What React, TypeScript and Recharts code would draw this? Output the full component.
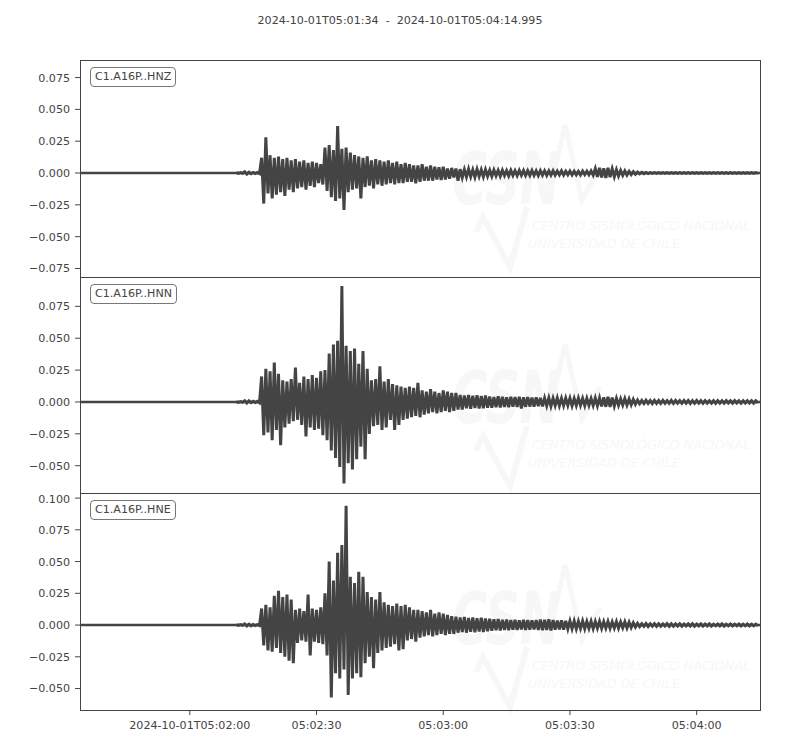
import { LineChart, Line, XAxis, YAxis, ReferenceLine } from 'recharts';

// amplitudes are read in thousandths, one upper and one lower peak per second
const MILLI = 0.001;
const startSec = 37; // seconds after 05:01:34
const endSec = 160.995;

const hnzHi = [
  0.3, 0.3, 1.0, 0.6, 0.4, 0.4, 12, 28, 14, 12,
  13, 11, 12, 10, 11, 9, 10, 8, 9, 8,
  7, 20, 22, 18, 37, 19, 20, 16, 14, 13,
  12, 13, 10, 11, 10, 9, 10, 8, 9, 7,
  8, 7, 6, 6, 7, 5, 6, 5, 4.5, 5,
  3.5, 4, 3.5, 3, 2.7, 3.1, 2.5, 2.9, 2.5, 2.7,
  2.2, 2.4, 2.0, 2.2, 1.9, 2.1, 1.8, 2.0, 1.9, 1.8,
  2.0, 1.7, 1.9, 1.8, 1.6, 1.8, 1.5, 1.7, 1.4, 1.5,
  1.4, 1.3, 1.5, 1.4, 1.6, 3.4, 4.0, 3.6, 4.1, 3.2,
  2.6, 2.0, 1.6, 1.3, 1.0, 0.7, 0.5, 0.4, 0.3, 0.3,
  0.3, 0.3, 0.3, 0.3, 0.3, 0.3, 0.3, 0.3, 0.3, 0.3,
  0.3, 0.3, 0.3, 0.3, 0.3, 0.3, 0.3, 0.3, 0.3, 0.3,
  0.3, 0.3, 0.3, 0.3,
];
const hnzLo = [
  -0.3, -0.3, -0.9, -0.6, -0.4, -0.5, -24, -16, -20, -17,
  -15, -18, -13, -15, -12, -11, -13, -10, -11, -8,
  -9, -14, -19, -22, -20, -29, -15, -13, -12, -20,
  -11, -10, -12, -9, -10, -9, -8, -9, -8, -8,
  -7, -7, -8, -7, -6, -6, -6, -5, -5.5, -5,
  -4.5, -3.5, -6, -3.5, -3.1, -2.9, -3.3, -2.7, -3, -2.5,
  -2.6, -2.2, -2.4, -2.0, -2.2, -1.9, -2.1, -1.8, -2.0, -1.9,
  -1.8, -2.0, -1.7, -1.9, -1.6, -1.7, -1.5, -1.6, -1.4, -1.5,
  -1.4, -1.5, -1.3, -1.4, -1.7, -3.0, -3.4, -3.8, -3.2, -2.9,
  -2.4, -1.9, -1.6, -1.3, -1.0, -0.7, -0.5, -0.4, -0.3, -0.3,
  -0.3, -0.3, -0.3, -0.3, -0.3, -0.3, -0.3, -0.3, -0.3, -0.3,
  -0.3, -0.3, -0.3, -0.3, -0.3, -0.3, -0.3, -0.3, -0.3, -0.3,
  -0.3, -0.3, -0.3, -0.3,
];

const hnnHi = [
  0.3, 0.3, 1.0, 0.9, 0.5, 0.5, 20, 26, 24, 31,
  22, 17, 16, 18, 27, 15, 20, 18, 21, 19,
  24, 25, 38, 45, 48, 91, 44, 40, 42, 30,
  40, 26, 17, 18, 28, 16, 18, 14, 13, 12,
  11, 12, 11, 15, 9, 8, 10, 8, 7, 9,
  8, 7, 7, 5.5, 5, 5.4, 4.8, 5.2, 4.6, 5,
  4.3, 3.9, 4.5, 4.0, 3.7, 4.1, 3.8, 4.0, 3.6, 3.9,
  3.4, 3.7, 3.2, 3.0, 3.2, 2.9, 3.1, 2.8, 3.0, 2.9,
  2.7, 3.0, 2.8, 2.9, 2.6, 3.0, 3.2, 3.6, 4.0, 3.4,
  2.8, 2.4, 2.6, 2.3, 2.0, 1.4, 1.2, 1.3, 1.1, 1.2,
  1.1, 1.2, 1.0, 1.2, 1.1, 1.0, 1.2, 1.1, 1.0, 1.1,
  1.0, 1.1, 0.9, 1.0, 1.1, 0.9, 1.0, 0.9, 1.0, 0.9,
  0.9, 1.0, 0.9, 0.9,
];
const hnnLo = [
  -0.3, -0.3, -0.8, -0.6, -0.5, -0.6, -26, -24, -30, -22,
  -34, -20, -17, -15, -14, -18, -27, -20, -22, -21,
  -26, -30, -38, -44, -51, -64, -48, -53, -45, -35,
  -45, -25, -19, -18, -22, -20, -14, -22, -18, -14,
  -13, -12, -11, -12, -10, -9, -8, -9, -8, -7,
  -8, -7, -6, -6, -5, -5.4, -4.8, -5.2, -5, -4.6,
  -4.5, -4.1, -4.3, -3.9, -4.1, -3.7, -4.0, -5.2, -3.8, -3.6,
  -3.6, -3.2, -3.4, -3.0, -3.2, -2.8, -3.0, -2.9, -2.7, -3.0,
  -2.8, -2.6, -2.9, -2.7, -2.8, -3.0, -3.4, -3.8, -3.9, -3.2,
  -2.6, -2.4, -2.5, -2.2, -1.8, -1.4, -1.2, -1.1, -1.3, -1.1,
  -1.2, -1.0, -1.1, -1.2, -1.0, -1.1, -1.0, -1.2, -1.1, -1.0,
  -1.1, -0.9, -1.0, -1.1, -0.9, -1.0, -0.9, -1.0, -0.9, -1.0,
  -0.9, -0.9, -1.0, -0.9,
];

const hneHi = [
  0.3, 0.3, 0.8, 0.7, 0.4, 0.4, 13, 16, 14, 23,
  27, 22, 24, 20, 12, 13, 11, 24, 13, 12,
  14, 25, 50, 35, 57, 63, 94, 38, 33, 42,
  38, 26, 22, 20, 26, 18, 16, 15, 17, 15,
  16, 14, 12, 12, 11, 10, 12, 9, 10, 9,
  8, 7, 6.5, 6, 6.4, 5.6, 6, 5.4, 5.8, 5.2,
  5.0, 4.5, 4.7, 4.1, 4.3, 3.9, 4.2, 3.8, 4.1, 3.9,
  3.7, 4.0, 4.3, 4.1, 4.5, 3.9, 3.6, 3.8, 3.3, 3.1,
  3.2, 2.9, 3.1, 2.8, 3.0, 2.7, 2.9, 2.6, 2.8, 2.5,
  2.7, 2.4, 2.5, 2.2, 1.8, 1.3, 1.1, 1.2, 1.0, 1.1,
  1.0, 0.9, 1.1, 1.0, 0.9, 1.0, 0.8, 0.9, 1.0, 0.8,
  0.9, 0.8, 0.9, 0.7, 0.8, 0.9, 0.7, 0.8, 0.7, 0.8,
  0.7, 0.8, 0.7, 0.7,
];
const hneLo = [
  -0.3, -0.3, -0.8, -0.6, -0.4, -0.4, -16, -20, -21, -18,
  -22, -25, -28, -30, -14, -12, -13, -24, -13, -14,
  -15, -24, -57, -38, -42, -35, -55, -42, -38, -41,
  -30, -25, -34, -22, -20, -18, -17, -15, -20, -19,
  -12, -11, -13, -10, -9, -8, -9, -8, -7, -8,
  -7, -7, -6, -5.5, -6, -5.2, -5.6, -5, -5.4, -4.8,
  -4.5, -4.1, -4.3, -3.9, -4.1, -3.7, -3.9, -3.5, -3.8, -3.6,
  -3.5, -3.8, -4.1, -3.9, -4.3, -3.7, -3.4, -3.6, -3.1, -3.0,
  -3.0, -2.7, -2.9, -2.6, -2.8, -2.5, -2.7, -2.4, -2.6, -2.3,
  -2.5, -2.2, -2.3, -2.0, -1.6, -1.2, -1.0, -1.1, -0.9, -1.0,
  -0.9, -0.8, -1.0, -0.9, -0.8, -0.9, -0.7, -0.8, -0.9, -0.7,
  -0.8, -0.7, -0.8, -0.6, -0.7, -0.8, -0.6, -0.7, -0.6, -0.7,
  -0.6, -0.7, -0.6, -0.6,
];

const xTickSecs = [26, 56, 86, 116, 146];
const xTickLabels = ['2024-10-01T05:02:00', '05:02:30', '05:03:00', '05:03:30', '05:04:00'];

const channels = [
  { code: 'C1.A16P..HNZ', hi: hnzHi, lo: hnzLo, domain: [-0.0817, 0.0888], ticks: [-0.075, -0.05, -0.025, 0, 0.025, 0.05, 0.075] },
  { code: 'C1.A16P..HNN', hi: hnnHi, lo: hnnLo, domain: [-0.0714, 0.098], ticks: [-0.05, -0.025, 0, 0.025, 0.05, 0.075] },
  { code: 'C1.A16P..HNE', hi: hneHi, lo: hneLo, domain: [-0.0669, 0.104], ticks: [-0.05, -0.025, 0, 0.025, 0.05, 0.075, 0.1] },
];

const INK = '#444';
const FONT = 'DejaVu Sans, sans-serif';
const panelTops = [60, 277, 493];
const panelHeights = [217, 216, 217];

// the trace swings to the upper peak, then to the lower peak, in every second
const buildTrace = (hi: number[], lo: number[]) =>
  hi.flatMap((h, i) => [
    { t: startSec + i, v: h * MILLI },
    { t: startSec + i + 0.5, v: lo[i] * MILLI },
  ]);

const fmtY = (v: number) => v.toFixed(3).replace('-', '\u2212');
const fmtX = (v: number) => xTickLabels[xTickSecs.indexOf(v)] ?? '';

const WM = '#f7f7f7';
const WM_FONT = 'DejaVu Sans Condensed, DejaVu Sans, sans-serif';
const Watermark = ({ dy }: { dy: number }) => (
  <g fill={WM} stroke="none" transform={`translate(0, ${dy})`}>
    <g transform="translate(452, 204) scale(1, 1.4)">
      <text x={0} y={0} fontSize={52} fontWeight="bold" fontStyle="italic" fontFamily={WM_FONT} textLength={108} lengthAdjust="spacingAndGlyphs">CSN</text>
    </g>
    <polyline points="548,200 565,125 582,200 600,168" fill="none" stroke={WM} strokeWidth={5} />
    <polyline points="476,232 483,217 510,267 527,207" fill="none" stroke={WM} strokeWidth={6} />
    <text x={532} y={230} fontSize={13} fontStyle="italic" fontFamily={WM_FONT} textLength={218} lengthAdjust="spacingAndGlyphs">CENTRO SISMOLÓGICO NACIONAL</text>
    <text x={528} y={248} fontSize={13} fontStyle="italic" fontFamily={WM_FONT} textLength={152} lengthAdjust="spacingAndGlyphs">UNIVERSIDAD DE CHILE</text>
  </g>
);

export default function App() {
  return (
    <div style={{ position: 'absolute', left: 0, top: 0, width: 800, height: 750, background: '#fff', fontFamily: FONT }}>
      <svg width={800} height={750} style={{ position: 'absolute', left: 0, top: 0 }}>
        <Watermark dy={0} />
        <Watermark dy={219} />
        <Watermark dy={440} />
      </svg>

      <div style={{ position: 'absolute', left: 0, top: 14, width: 800, textAlign: 'center', fontSize: 11.1, color: INK, whiteSpace: 'pre' }}>
        {'2024-10-01T05:01:34  -  2024-10-01T05:04:14.995'}
      </div>

      {channels.map((ch, idx) => {
        const last = idx === channels.length - 1;
        const h = panelHeights[idx] + (last ? 40 : 0);
        return (
          <div key={ch.code} style={{ position: 'absolute', left: 0, top: panelTops[idx] }}>
            <LineChart width={800} height={h} data={buildTrace(ch.hi, ch.lo)} margin={{ top: 0, right: 40, bottom: 0, left: 10 }}>
              <XAxis
                type="number"
                dataKey="t"
                domain={[0, endSec]}
                ticks={xTickSecs}
                tickFormatter={fmtX}
                allowDataOverflow
                hide={!last}
                height={40}
                axisLine={false}
                tickSize={5}
                tickMargin={6}
                tickLine={{ stroke: INK }}
                tick={{ fill: INK, fontSize: 11.1, fontFamily: FONT }}
              />
              <YAxis
                type="number"
                domain={ch.domain}
                ticks={ch.ticks}
                tickFormatter={fmtY}
                allowDataOverflow
                width={70}
                axisLine={false}
                tickSize={5}
                tickMargin={5}
                tickLine={{ stroke: INK }}
                tick={{ fill: INK, fontSize: 11.1, fontFamily: FONT }}
              />
              <ReferenceLine y={0} stroke={INK} strokeWidth={2.6} />
              <Line type="linear" dataKey="v" stroke={INK} strokeWidth={3} strokeLinejoin="miter" dot={false} activeDot={false} isAnimationActive={false} />
            </LineChart>
          </div>
        );
      })}

      {channels.map((ch, idx) => (
        <div
          key={`frame-${ch.code}`}
          style={{ position: 'absolute', left: 80, top: panelTops[idx], width: 681, height: panelHeights[idx] + 1, border: `1px solid ${INK}`, boxSizing: 'border-box', pointerEvents: 'none' }}
        />
      ))}

      {channels.map((ch, idx) => (
        <div
          key={`label-${ch.code}`}
          style={{ position: 'absolute', left: 90, top: panelTops[idx] + 7, padding: '2px 4px', border: '1.2px solid #777', borderRadius: 4, background: '#fff', fontSize: 11.1, color: INK, lineHeight: '14px' }}
        >
          {ch.code}
        </div>
      ))}
    </div>
  );
}
